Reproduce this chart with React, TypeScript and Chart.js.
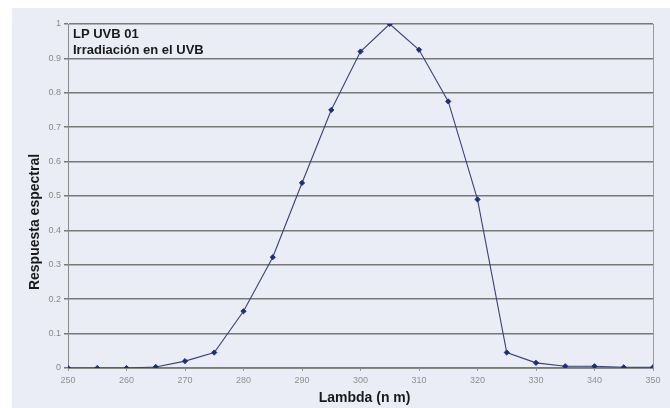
import React, { useEffect, useRef } from "react";
import { Chart, registerables } from "chart.js";

Chart.register(...registerables);

// Wavelength samples (nm) and normalised spectral response
const wavelengths = [250, 255, 260, 265, 270, 275, 280, 285, 290, 295, 300, 305, 310, 315, 320, 325, 330, 335, 340, 345, 350];
const response = [0, 0, 0, 0.003, 0.02, 0.045, 0.165, 0.322, 0.538, 0.75, 0.92, 1.0, 0.925, 0.775, 0.49, 0.045, 0.015, 0.005, 0.005, 0.002, 0.002];

const titleLines = ["LP UVB 01", "Irradiación en el UVB"];
const xTitle = "Lambda (n m)";
const yTitle = "Respuesta espectral";

const FONT = "'Liberation Sans', Arial, sans-serif";

const backdrop = {
  id: "backdrop",
  beforeDraw(chart: Chart) {
    const { ctx, width, height } = chart;
    ctx.save();
    ctx.fillStyle = "#ffffff";
    ctx.fillRect(0, 0, width, height);
    ctx.fillStyle = "#eaedf6";
    ctx.fillRect(12, 8, width - 12, height - 8);
    ctx.restore();
  },
};

// Right frame edge, the in-plot heading and both axis titles
const annotations = {
  id: "annotations",
  afterDatasetsDraw(chart: Chart) {
    const { ctx, chartArea } = chart;
    ctx.save();
    ctx.strokeStyle = "#9a9a9a";
    ctx.lineWidth = 1;
    ctx.beginPath();
    ctx.moveTo(chartArea.right + 0.5, chartArea.top);
    ctx.lineTo(chartArea.right + 0.5, chartArea.bottom);
    ctx.stroke();

    ctx.fillStyle = "#1a1a1a";
    ctx.font = `bold 13px ${FONT}`;
    ctx.textBaseline = "middle";
    ctx.textAlign = "left";
    titleLines.forEach((t, i) => {
      ctx.fillText(t, chartArea.left + 5, chartArea.top + 10 + i * 16);
    });

    ctx.font = `bold 14px ${FONT}`;
    ctx.textAlign = "center";
    ctx.fillText(xTitle, chartArea.left + (chartArea.right - chartArea.left) * 0.507, 398);

    ctx.translate(35, 222);
    ctx.rotate(-Math.PI / 2);
    ctx.fillText(yTitle, 0, 0);
    ctx.restore();
  },
};

export default function App() {
  const ref = useRef<HTMLCanvasElement | null>(null);

  useEffect(() => {
    if (!ref.current) return;
    const chart = new Chart(ref.current, {
      type: "line",
      data: {
        datasets: [
          {
            data: wavelengths.map((x, i) => ({ x, y: response[i] })),
            borderColor: "#3a4272",
            borderWidth: 1.1,
            backgroundColor: "#1c2e7e",
            pointBackgroundColor: "#1c2e7e",
            pointBorderColor: "#1c2e7e",
            pointStyle: "rectRot",
            pointRadius: 2.6,
            pointBorderWidth: 1,
            tension: 0,
          },
        ],
      },
      plugins: [backdrop, annotations],
      options: {
        responsive: false,
        animation: false,
        layout: { padding: { left: 0, top: 24, right: 17, bottom: 0 } },
        plugins: { legend: { display: false }, tooltip: { enabled: false } },
        scales: {
          x: {
            type: "linear",
            min: 250,
            max: 350,
            afterFit: (s: any) => {
              s.height = 40;
            },
            ticks: {
              stepSize: 10,
              color: "#909090",
              font: { family: FONT, size: 9 },
              padding: 4,
              maxRotation: 0,
            },
            grid: { drawOnChartArea: false, drawTicks: true, tickLength: 3, color: "#9a9a9a" },
            border: { color: "#8a8a8a", width: 1 },
          },
          y: {
            min: 0,
            max: 1,
            afterFit: (s: any) => {
              s.width = 68;
            },
            ticks: {
              stepSize: 0.1,
              color: "#8a8a8a",
              font: { family: FONT, size: 9 },
              padding: 3,
              callback: (v: any) => String(Number(Number(v).toFixed(1))),
            },
            grid: { color: "#787878", lineWidth: 1.5, tickLength: 4 },
            border: { color: "#8a8a8a", width: 1 },
          },
        },
      },
    });
    return () => chart.destroy();
  }, []);

  return (
    <div style={{ position: "fixed", left: 0, top: 0, width: 670, height: 408 }}>
      <canvas ref={ref} width={670} height={408} style={{ display: "block" }} />
    </div>
  );
}
